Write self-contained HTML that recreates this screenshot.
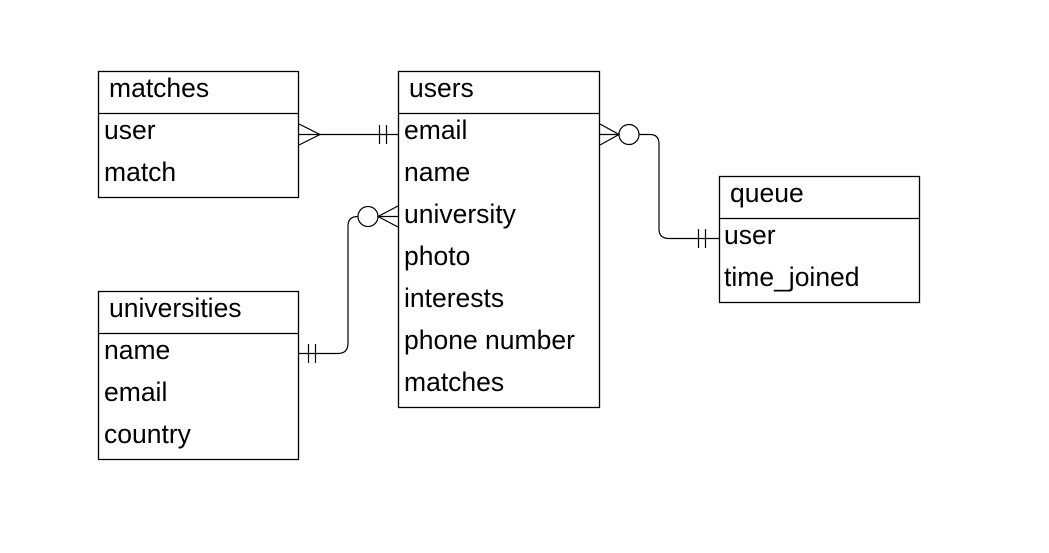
<!DOCTYPE html>
<html><head><meta charset="utf-8"><style>
html,body{margin:0;padding:0;background:#fff;width:1049px;height:553px;overflow:hidden}
text{font-family:"Liberation Sans",sans-serif;font-size:26.5px;fill:#000}
</style></head><body>
<svg width="1049" height="553" viewBox="0 0 1049 553" xmlns="http://www.w3.org/2000/svg">
<g fill="#fff" stroke="#000" stroke-width="1.3">
<rect x="98.5" y="71.5" width="200" height="126"/>
<line x1="98" y1="113.5" x2="299" y2="113.5"/>
<rect x="398.5" y="71.5" width="201" height="336"/>
<line x1="398" y1="113.5" x2="600" y2="113.5"/>
<rect x="719.5" y="176.5" width="200" height="126"/>
<line x1="719" y1="218.5" x2="920" y2="218.5"/>
<rect x="98.5" y="291.5" width="200" height="168"/>
<line x1="98" y1="333.5" x2="299" y2="333.5"/>
</g>
<text x="109" y="97">matches</text>
<text x="104" y="139">user</text>
<text x="104" y="181">match</text>
<text x="409" y="97">users</text>
<text x="404" y="139">email</text>
<text x="404" y="181">name</text>
<text x="404" y="223">university</text>
<text x="404" y="265">photo</text>
<text x="404" y="307">interests</text>
<text x="404" y="349">phone number</text>
<text x="404" y="391">matches</text>
<text x="730" y="202">queue</text>
<text x="724" y="244">user</text>
<text x="724" y="286">time_joined</text>
<text x="109" y="317">universities</text>
<text x="104" y="359">name</text>
<text x="104" y="401">email</text>
<text x="104" y="443">country</text>
<g fill="none" stroke="#000" stroke-width="1.2">
<line x1="299" y1="134.5" x2="398" y2="134.5"/>
<polyline points="299,124 320,134.5 299,145"/>
<line x1="379.5" y1="125" x2="379.5" y2="144"/>
<line x1="386.5" y1="125" x2="386.5" y2="144"/>
<polyline points="600,124 619,134.5 600,145"/>
<line x1="600" y1="134.5" x2="619" y2="134.5"/>
<circle cx="629" cy="134.5" r="10"/>
<path d="M639 134.5 H650 Q659 134.5 659 144 V229 Q659 238.5 669 238.5 H719"/>
<line x1="698.5" y1="229" x2="698.5" y2="248"/>
<line x1="705.5" y1="229" x2="705.5" y2="248"/>
<polyline points="398,206 378,216.5 398,227"/>
<line x1="398" y1="216.5" x2="378" y2="216.5"/>
<circle cx="368" cy="216.5" r="10"/>
<path d="M358 216.5 Q348 216.5 348 226 V343 Q348 353.5 338 353.5 H299"/>
<line x1="308.5" y1="344" x2="308.5" y2="363"/>
<line x1="315.5" y1="344" x2="315.5" y2="363"/>
</g>
</svg>
</body></html>
